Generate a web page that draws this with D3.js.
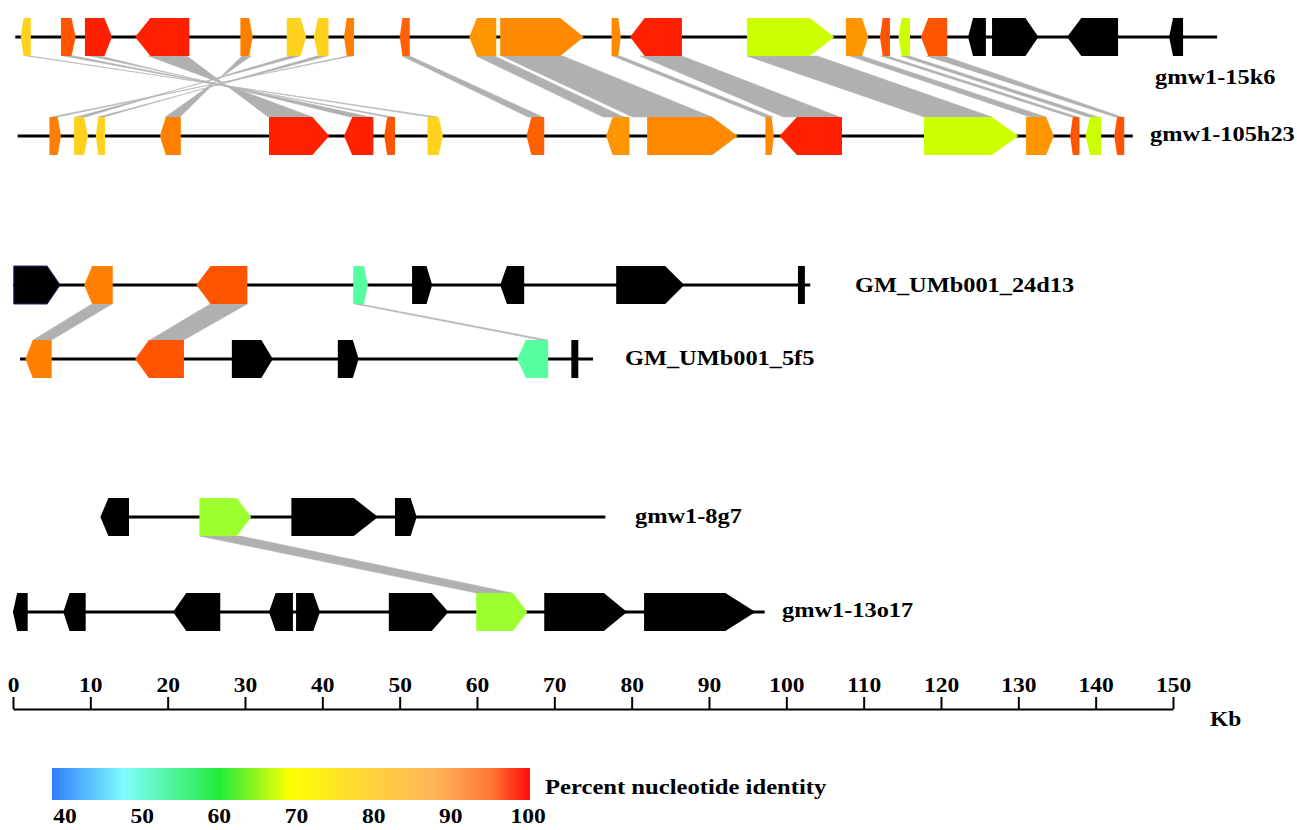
<!doctype html>
<html lang="en">
<head>
  <meta charset="utf-8">
  <style>
    body { margin: 0; background: #fff; }
    text { font-family: "Liberation Serif", "Times New Roman", serif; font-weight: bold; fill: #000; }
  </style>
</head>
<body>
  <script src="https://d3js.org/d3.v7.min.js"></script>
  <div id="chart"></div>
  <script>
    // ---- data (kb) ----
    var trackNames = ["gmw1-15k6", "gmw1-105h23", "GM_UMb001_24d13", "GM_UMb001_5f5", "gmw1-8g7", "gmw1-13o17"];
    var trackStart = [0.3, 0.6, 0, 0.9, 11.6, 0];
    var trackEnd   = [155.7, 144.8, 103.1, 75.0, 76.6, 97.2];

    // genes: [start, end, strand, identity]  (identity null = no match, black)
    var genes15k6 = [
      [1.0, 2.3, -1, 80], [6.2, 8.1, 1, 97], [9.3, 12.8, 1, 100], [15.8, 22.8, -1, 100],
      [29.4, 31.0, 1, 93], [35.4, 37.9, 1, 80], [38.9, 40.8, -1, 80], [42.8, 44.1, -1, 93],
      [50.0, 51.3, -1, 96], [59.0, 62.5, -1, 88], [63.0, 73.8, 1, 91], [77.4, 78.6, 1, 91],
      [79.8, 86.5, -1, 100], [94.9, 106.2, 1, 68], [107.7, 110.6, 1, 88], [112.1, 113.4, -1, 97],
      [114.5, 116.0, -1, 68], [117.4, 120.8, -1, 97], [123.5, 125.8, -1, null], [126.6, 132.6, 1, null],
      [136.3, 142.9, -1, null], [149.5, 151.3, -1, null]
    ];
    var genes105h23 = [
      [4.7, 6.2, 1, 93], [7.9, 9.7, 1, 80], [10.7, 11.9, -1, 80], [19.0, 21.7, -1, 93],
      [33.1, 40.9, 1, 100], [42.8, 46.6, -1, 100], [48.0, 49.4, -1, 97], [53.6, 55.6, 1, 80],
      [66.4, 68.7, -1, 96], [76.7, 79.7, -1, 88], [82.0, 93.7, 1, 91], [97.3, 98.4, 1, 91],
      [99.1, 107.2, -1, 100], [117.8, 130.0, 1, 68], [131.0, 134.6, 1, 88], [136.7, 137.9, -1, 97],
      [138.7, 140.7, -1, 68], [142.4, 143.7, -1, 97]
    ];
    var genes24d13 = [
      [0.1, 6.1, 1, null], [9.2, 12.9, -1, 93], [23.7, 30.3, -1, 97], [44.0, 45.9, 1, 55],
      [51.6, 54.2, 1, null], [63.0, 66.1, -1, null], [78.0, 86.8, 1, null], [101.5, 102.4, 0, null]
    ];
    var genes5f5 = [
      [1.6, 5.0, -1, 93], [15.8, 22.1, -1, 97], [28.3, 33.6, 1, null], [42.0, 44.7, 1, null],
      [65.2, 69.2, -1, 55], [72.2, 73.1, 0, null]
    ];
    var genes8g7 = [
      [11.3, 15.0, -1, null], [24.1, 30.8, 1, 64], [36.0, 47.2, 1, null], [49.4, 52.2, 1, null]
    ];
    var genes13o17 = [
      [0.0, 1.9, -1, null], [6.5, 9.4, -1, null], [20.7, 26.8, -1, null], [33.1, 36.2, -1, null],
      [36.6, 39.7, 1, null], [48.6, 56.3, 1, null], [59.9, 66.5, 1, 64], [68.7, 79.4, 1, null],
      [81.6, 96.0, 1, null]
    ];

    // homology links: [upperStart, upperEnd, lowerStart, lowerEnd, inverted]
    var links15k6to105h23 = [
      [1.8, 2.3, 53.9, 54.8, 1], [6.6, 7.9, 48.2, 49.1, 1], [10.0, 11.3, 43.6, 46.2, 1],
      [17.5, 22.5, 33.0, 38.7, 1], [29.6, 30.8, 19.7, 21.6, 1], [35.8, 37.1, 8.2, 9.4, 1],
      [39.3, 40.6, 11.0, 11.8, 1], [43.2, 43.8, 5.0, 5.8, 1],
      [50.3, 51.3, 66.6, 68.5, 0], [59.9, 62.3, 76.3, 79.0, 0], [63.2, 71.1, 80.1, 90.4, 0],
      [77.5, 78.5, 97.2, 98.3, 0], [81.1, 86.5, 99.6, 106.9, 0], [94.9, 104.0, 117.8, 126.6, 0],
      [108.2, 109.8, 131.5, 133.6, 0], [112.2, 113.1, 136.8, 137.7, 0], [114.8, 115.9, 139.0, 140.3, 0],
      [118.1, 120.4, 142.5, 143.4, 0]
    ];
    var links24d13to5f5 = [
      [10.2, 12.8, 2.6, 5.0, 0], [25.5, 30.3, 17.7, 22.1, 0], [44.2, 44.9, 68.2, 69.1, 0]
    ];
    var links8g7to13o17 = [
      [24.1, 29.4, 59.9, 64.5, 0]
    ];

    var axisTicks = [0, 10, 20, 30, 40, 50, 60, 70, 80, 90, 100, 110, 120, 130, 140, 150];
    var legendTicks = [40, 50, 60, 70, 80, 90, 100];
    var legendStops = [40, 49, 61, 70, 80, 88, 95, 100];
    var legendColors = ["#2f7dff", "#7ffdff", "#22ec3a", "#ffff00", "#ffd23c", "#ffb458", "#ff7a36", "#ff0a0a"];

    // ---- layout ----
    var width = 1297, height = 830;
    var rowY = [37, 136, 285, 359, 517, 612];
    var labelXY = [[1155, 84], [1150, 141], [855, 292], [625, 365], [635, 523], [782, 617]];
    var geneH = 19;
    var allGenes = [genes15k6, genes105h23, genes24d13, genes5f5, genes8g7, genes13o17];
    var allLinks = [[0, 1, links15k6to105h23], [2, 3, links24d13to5f5], [4, 5, links8g7to13o17]];

    var x = d3.scaleLinear().domain([0, 150]).range([13, 1173]);
    var geneColor = d3.scaleLinear()
      .domain([55, 64, 68, 80, 88, 91, 93, 97, 100])
      .range(["#55ffa0", "#9cff2e", "#ccff00", "#ffd21e", "#ff9500", "#ff8a00", "#ff8000", "#ff5500", "#ff2000"]);

    var svg = d3.select("#chart").append("svg")
      .attr("width", width).attr("height", height);

    // links first
    allLinks.forEach(function(l) {
      var yt = rowY[l[0]] + geneH, yb = rowY[l[1]] - geneH;
      svg.append("g").selectAll("path").data(l[2]).enter().append("path")
        .attr("d", function(d) {
          var a0 = x(d[0]), a1 = x(d[1]), b0 = x(d[2]), b1 = x(d[3]);
          if (d[4]) return "M" + a0 + "," + yt + "L" + a1 + "," + yt + "L" + b0 + "," + yb + "L" + b1 + "," + yb + "Z";
          return "M" + a0 + "," + yt + "L" + a1 + "," + yt + "L" + b1 + "," + yb + "L" + b0 + "," + yb + "Z";
        })
        .style("fill", "#b0b0b0")
        .style("stroke", "#b8b8b8")
        .style("stroke-width", 0.6);
    });

    // track lines
    svg.append("g").selectAll("line").data(trackNames).enter().append("line")
      .attr("x1", function(d, i) { return x(trackStart[i]); })
      .attr("x2", function(d, i) { return x(trackEnd[i]); })
      .attr("y1", function(d, i) { return rowY[i]; })
      .attr("y2", function(d, i) { return rowY[i]; })
      .style("stroke", "#000").style("stroke-width", 3);

    // genes
    function genePath(g, y) {
      var x0 = x(g[0]), x1 = x(g[1]), h = geneH, len = x1 - x0;
      var head = Math.min(len * 0.28, 30);
      if (g[2] > 0)
        return "M" + x0 + "," + (y - h) + "L" + (x1 - head) + "," + (y - h) + "L" + x1 + "," + y +
               "L" + (x1 - head) + "," + (y + h) + "L" + x0 + "," + (y + h) + "Z";
      if (g[2] < 0)
        return "M" + x1 + "," + (y - h) + "L" + (x0 + head) + "," + (y - h) + "L" + x0 + "," + y +
               "L" + (x0 + head) + "," + (y + h) + "L" + x1 + "," + (y + h) + "Z";
      return "M" + x0 + "," + (y - h) + "H" + x1 + "V" + (y + h) + "H" + x0 + "Z";
    }
    allGenes.forEach(function(genes, i) {
      svg.append("g").selectAll("path").data(genes).enter().append("path")
        .attr("d", function(d) { return genePath(d, rowY[i]); })
        .style("fill", function(d) { return d[3] == null ? "#000" : geneColor(d[3]); })
        // the first 24d13 gene has a thin navy outline in the original
        .style("stroke", function(d, j) { return (i === 2 && j === 0) ? "#28287a" : "none"; })
        .style("stroke-width", 1);
    });

    // track names
    svg.append("g").selectAll("text").data(trackNames).enter().append("text")
      .attr("transform", function(d, i) { return "translate(" + labelXY[i][0] + "," + labelXY[i][1] + ") scale(1.16,1)"; })
      .style("font-size", "21px")
      .text(function(d) { return d; });

    // scale axis
    var axis = svg.append("g")
      .attr("transform", "translate(0,709)")
      .call(d3.axisTop(x).tickValues(axisTicks).tickSizeInner(12).tickSizeOuter(0).tickPadding(5));
    axis.select(".domain").style("stroke", "#000").style("stroke-width", 2);
    axis.selectAll(".tick line").style("stroke", "#000").style("stroke-width", 2);
    axis.selectAll(".tick text")
      .attr("transform", "scale(1.12,1)")
      .style("font-size", "21px").style("font-family", "Liberation Serif").style("font-weight", "bold")
      .style("fill", "#000");
    svg.append("text").attr("transform", "translate(1210,726) scale(1.12,1)")
      .style("font-size", "21px").text("Kb");

    // legend
    var lx = d3.scaleLinear().domain([40, 100]).range([52, 530]);
    var grad = svg.append("defs").append("linearGradient").attr("id", "pid")
      .attr("x1", "0%").attr("x2", "100%").attr("y1", "0%").attr("y2", "0%");
    grad.selectAll("stop").data(legendStops).enter().append("stop")
      .attr("offset", function(d) { return ((d - 40) / 60 * 100) + "%"; })
      .attr("stop-color", function(d, i) { return legendColors[i]; });
    svg.append("rect")
      .attr("x", lx(40)).attr("y", 768)
      .attr("width", lx(100) - lx(40)).attr("height", 32)
      .style("fill", "url(#pid)");
    svg.append("text").attr("transform", "translate(545,794) scale(1.12,1)")
      .style("font-size", "22px").text("Percent nucleotide identity");
    var lt = d3.scaleLinear().domain([40, 100]).range([65, 528]);
    svg.append("g").selectAll("text").data(legendTicks).enter().append("text")
      .attr("transform", function(d) { return "translate(" + lt(d) + ",823) scale(1.12,1)"; })
      .attr("text-anchor", "middle")
      .style("font-size", "21px")
      .text(function(d) { return d; });
  </script>
</body>
</html>
